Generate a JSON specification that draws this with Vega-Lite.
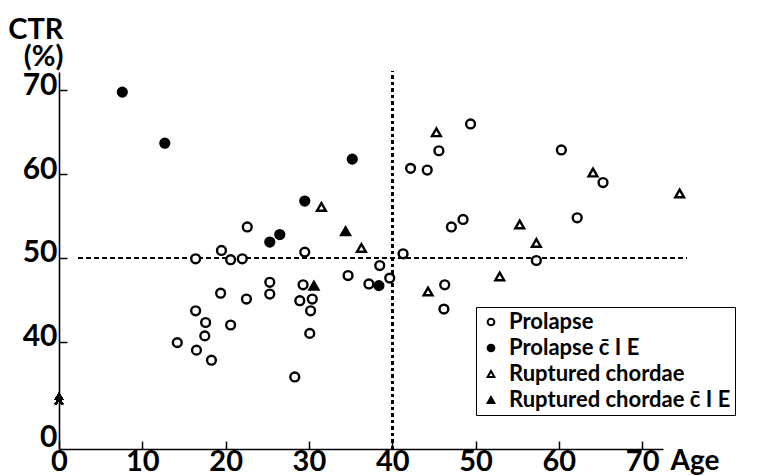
{
  "$schema": "https://vega.github.io/schema/vega-lite/v6.json",
  "width": 604,
  "height": 377,
  "autosize": {"type": "none"},
  "padding": {"left": 59, "top": 72, "right": 105, "bottom": 27},
  "background": "white",
  "config": {"view": {"stroke": null}, "font": "Lato"},
  "data": {"values": [
    {"age": 22.6, "ctr": 53.7, "group": "Prolapse"},
    {"age": 19.5, "ctr": 50.9, "group": "Prolapse"},
    {"age": 16.4, "ctr": 49.9, "group": "Prolapse"},
    {"age": 20.6, "ctr": 49.8, "group": "Prolapse"},
    {"age": 22.0, "ctr": 49.9, "group": "Prolapse"},
    {"age": 29.5, "ctr": 50.7, "group": "Prolapse"},
    {"age": 25.3, "ctr": 47.1, "group": "Prolapse"},
    {"age": 25.3, "ctr": 45.7, "group": "Prolapse"},
    {"age": 19.4, "ctr": 45.8, "group": "Prolapse"},
    {"age": 22.5, "ctr": 45.1, "group": "Prolapse"},
    {"age": 16.4, "ctr": 43.7, "group": "Prolapse"},
    {"age": 17.6, "ctr": 42.3, "group": "Prolapse"},
    {"age": 20.6, "ctr": 42.0, "group": "Prolapse"},
    {"age": 17.5, "ctr": 40.7, "group": "Prolapse"},
    {"age": 14.2, "ctr": 39.9, "group": "Prolapse"},
    {"age": 16.5, "ctr": 39.0, "group": "Prolapse"},
    {"age": 18.3, "ctr": 37.8, "group": "Prolapse"},
    {"age": 28.3, "ctr": 35.8, "group": "Prolapse"},
    {"age": 29.3, "ctr": 46.8, "group": "Prolapse"},
    {"age": 28.9, "ctr": 44.9, "group": "Prolapse"},
    {"age": 30.4, "ctr": 45.1, "group": "Prolapse"},
    {"age": 30.2, "ctr": 43.7, "group": "Prolapse"},
    {"age": 30.1, "ctr": 41.0, "group": "Prolapse"},
    {"age": 34.7, "ctr": 47.9, "group": "Prolapse"},
    {"age": 37.2, "ctr": 46.9, "group": "Prolapse"},
    {"age": 39.7, "ctr": 47.6, "group": "Prolapse"},
    {"age": 38.5, "ctr": 49.1, "group": "Prolapse"},
    {"age": 41.3, "ctr": 50.5, "group": "Prolapse"},
    {"age": 42.2, "ctr": 60.7, "group": "Prolapse"},
    {"age": 44.2, "ctr": 60.5, "group": "Prolapse"},
    {"age": 45.6, "ctr": 62.8, "group": "Prolapse"},
    {"age": 49.4, "ctr": 66.0, "group": "Prolapse"},
    {"age": 47.1, "ctr": 53.7, "group": "Prolapse"},
    {"age": 48.5, "ctr": 54.6, "group": "Prolapse"},
    {"age": 46.3, "ctr": 46.8, "group": "Prolapse"},
    {"age": 46.2, "ctr": 43.9, "group": "Prolapse"},
    {"age": 57.3, "ctr": 49.7, "group": "Prolapse"},
    {"age": 60.3, "ctr": 62.9, "group": "Prolapse"},
    {"age": 62.2, "ctr": 54.8, "group": "Prolapse"},
    {"age": 65.3, "ctr": 59.0, "group": "Prolapse"},
    {"age": 7.6, "ctr": 69.8, "group": "Prolapse c̄ I E"},
    {"age": 12.7, "ctr": 63.7, "group": "Prolapse c̄ I E"},
    {"age": 35.2, "ctr": 61.8, "group": "Prolapse c̄ I E"},
    {"age": 29.5, "ctr": 56.8, "group": "Prolapse c̄ I E"},
    {"age": 25.3, "ctr": 51.9, "group": "Prolapse c̄ I E"},
    {"age": 26.5, "ctr": 52.8, "group": "Prolapse c̄ I E"},
    {"age": 38.4, "ctr": 46.7, "group": "Prolapse c̄ I E"},
    {"age": 31.5, "ctr": 56.1, "group": "Ruptured chordae"},
    {"age": 36.3, "ctr": 51.2, "group": "Ruptured chordae"},
    {"age": 45.3, "ctr": 65.0, "group": "Ruptured chordae"},
    {"age": 55.3, "ctr": 54.0, "group": "Ruptured chordae"},
    {"age": 57.3, "ctr": 51.8, "group": "Ruptured chordae"},
    {"age": 52.9, "ctr": 47.8, "group": "Ruptured chordae"},
    {"age": 44.3, "ctr": 46.0, "group": "Ruptured chordae"},
    {"age": 64.1, "ctr": 60.2, "group": "Ruptured chordae"},
    {"age": 74.5, "ctr": 57.7, "group": "Ruptured chordae"},
    {"age": 34.4, "ctr": 53.2, "group": "Ruptured chordae c̄ I E"},
    {"age": 30.6, "ctr": 46.7, "group": "Ruptured chordae c̄ I E"}
  ]},
  "layer": [
    {
      "mark": {"type": "rule", "strokeDash": [4, 4], "strokeWidth": 1.5, "color": "black"},
      "encoding": {
        "x": {"datum": 2.3, "type": "quantitative", "scale": {"domain": [0, 72.5], "nice": false, "zero": false}},
        "x2": {"datum": 75.3},
        "y": {"datum": 50, "type": "quantitative", "scale": {"domain": [27.2, 72.2], "nice": false, "zero": false}}
      }
    },
    {
      "mark": {"type": "rule", "strokeDash": [3, 3.5], "strokeWidth": 1.8, "color": "black"},
      "encoding": {
        "x": {"datum": 40, "type": "quantitative"},
        "y": {"datum": 27.2, "type": "quantitative"},
        "y2": {"datum": 72.3}
      }
    },
    {
      "mark": {"type": "point", "shape": "M-0.6,0L0,-0.9L0.6,0M-0.6,0.8L0,-0.1L0.6,0.8", "filled": false, "fillOpacity": 0, "stroke": "black", "strokeWidth": 1.5, "size": 144, "clip": false},
      "encoding": {
        "x": {"datum": 0, "type": "quantitative"},
        "y": {"datum": 33.1, "type": "quantitative"}
      }
    },
    {
      "mark": {"type": "point", "filled": true, "stroke": "black", "strokeWidth": 2.4, "size": 78, "opacity": 1, "clip": false},
      "encoding": {
        "x": {
          "field": "age", "type": "quantitative",
          "scale": {"domain": [0, 72.5], "nice": false, "zero": false},
          "axis": {
            "values": [0, 10, 20, 30, 40, 50, 60, 70],
            "grid": false,
            "domainColor": "black", "domainWidth": 1.6,
            "tickColor": "black", "tickWidth": 1.5, "tickSize": -8,
            "labelFont": "Lato", "labelFontWeight": "bold", "labelFontSize": 29, "labelColor": "black",
            "labelPadding": 6, "labelFlush": false, "labelOverlap": false,
            "title": "Age", "titleFont": "Lato", "titleFontWeight": "bold", "titleFontSize": 28, "titleColor": "black",
            "titleX": 611, "titleY": 20, "titleAlign": "left", "titleBaseline": "alphabetic", "titleAnchor": null
          }
        },
        "y": {
          "field": "ctr", "type": "quantitative",
          "scale": {"domain": [27.2, 72.2], "nice": false, "zero": false},
          "axis": {
            "values": [28, 40, 50, 60, 70],
            "labelExpr": "datum.value < 30 ? '0' : datum.label",
            "grid": false,
            "domainColor": "black", "domainWidth": 1.6,
            "tickColor": "black", "tickWidth": 1.5, "tickSize": -8,
            "tickOpacity": {"condition": {"test": "datum.value < 30", "value": 0}, "value": 1},
            "labelFont": "Lato", "labelFontWeight": "bold", "labelFontSize": 30, "labelColor": "black",
            "labelPadding": 10, "labelBaseline": "alphabetic", "labelOffset": 4, "labelFlush": false, "labelOverlap": false,
            "title": ["CTR", "(%)"], "titleFont": "Lato", "titleFontWeight": "bold", "titleFontSize": 29, "titleColor": "black",
            "titleAngle": 0, "titleAlign": "right", "titleBaseline": "alphabetic", "titleX": 4, "titleY": -34, "titleLineHeight": 27, "titleAnchor": null
          }
        },
        "shape": {
          "field": "group", "type": "nominal",
          "scale": {"domain": ["Prolapse", "Prolapse c̄ I E", "Ruptured chordae", "Ruptured chordae c̄ I E"], "range": ["circle", "circle", "triangle-up", "triangle-up"]},
          "legend": {
            "orient": "none", "legendX": 417, "legendY": 235, "direction": "vertical", "title": null,
            "strokeColor": "black", "fillColor": "white", "padding": 4,
            "labelFont": "Lato", "labelFontWeight": "bold", "labelFontSize": 22, "labelColor": "black", "labelOffset": 7, "labelLimit": 400,
            "symbolSize": 45, "symbolStrokeWidth": 2, "rowPadding": 4
          }
        },
        "color": {
          "field": "group", "type": "nominal",
          "scale": {"domain": ["Prolapse", "Prolapse c̄ I E", "Ruptured chordae", "Ruptured chordae c̄ I E"], "range": ["white", "black", "white", "black"]}
        }
      }
    }
  ]
}
